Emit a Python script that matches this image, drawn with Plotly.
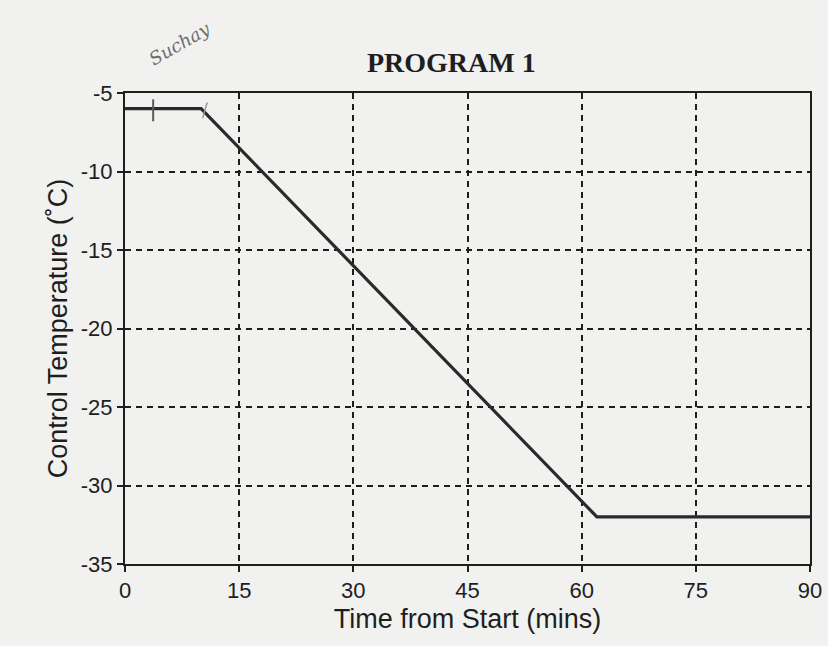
import plotly.graph_objects as go

# Freezer control program: hold, linear ramp, hold
time_min = [0, 10, 62, 90]
temp_c = [-6, -6, -32, -32]

x_ticks = [0, 15, 30, 45, 60, 75, 90]
y_ticks = [-35, -30, -25, -20, -15, -10, -5]

paper = "#f1f1f0"
ink = "#1e1e1e"
pencil = "#5a5a5a"
sans = "Liberation Sans, Arial, sans-serif"

fig = go.Figure()
fig.add_trace(go.Scatter(
    x=time_min, y=temp_c, mode="lines",
    line=dict(color="#2a2a2a", width=3.2),
    showlegend=False, hoverinfo="x+y",
))

axis_common = dict(
    showline=True, linecolor=ink, linewidth=2, mirror=True,
    showgrid=True, gridcolor=ink, gridwidth=2, griddash="6px,5px",
    ticks="outside", ticklen=6, tickwidth=1.5, tickcolor=ink,
    zeroline=False, automargin=False,
    tickfont=dict(family=sans, size=22, color=ink),
    title_font=dict(family=sans, size=27, color=ink),
)

fig.update_xaxes(
    range=[0, 90], tickvals=x_ticks, ticktext=[str(v) for v in x_ticks],
    title_text="Time from Start (mins)", title_standoff=7, **axis_common,
)
fig.update_yaxes(
    range=[-35, -5], tickvals=y_ticks, ticktext=[str(v) for v in y_ticks],
    title_text="Control Temperature (˚C)", title_standoff=5, **axis_common,
)

# pencil marks on the hold segment
fig.add_shape(type="line", xref="x", yref="y", x0=3.7, x1=3.7, y0=-5.4, y1=-6.8,
              line=dict(color=pencil, width=2))
fig.add_shape(type="line", xref="x", yref="y", x0=10.8, x1=10.2, y0=-5.6, y1=-6.6,
              line=dict(color="#9a9a9a", width=1.5))

fig.update_layout(
    width=828, height=646,
    margin=dict(l=125, r=18, t=93, b=82),
    paper_bgcolor=paper, plot_bgcolor=paper,
    title=dict(
        text="<b>PROGRAM 1</b>", x=0.545, xanchor="center", y=0.904, yanchor="middle",
        font=dict(family="Liberation Serif, Times New Roman, serif", size=28, color=ink),
    ),
    annotations=[
        dict(text="Suchay", xref="paper", yref="paper", x=0.08, y=1.105,
             xanchor="center", yanchor="middle",
             showarrow=False, textangle=-30,
             font=dict(family="DejaVu Serif", size=18, color="#6d6d6d"),
             font_style="italic"),
    ],
)

fig.write_html("out.html")
